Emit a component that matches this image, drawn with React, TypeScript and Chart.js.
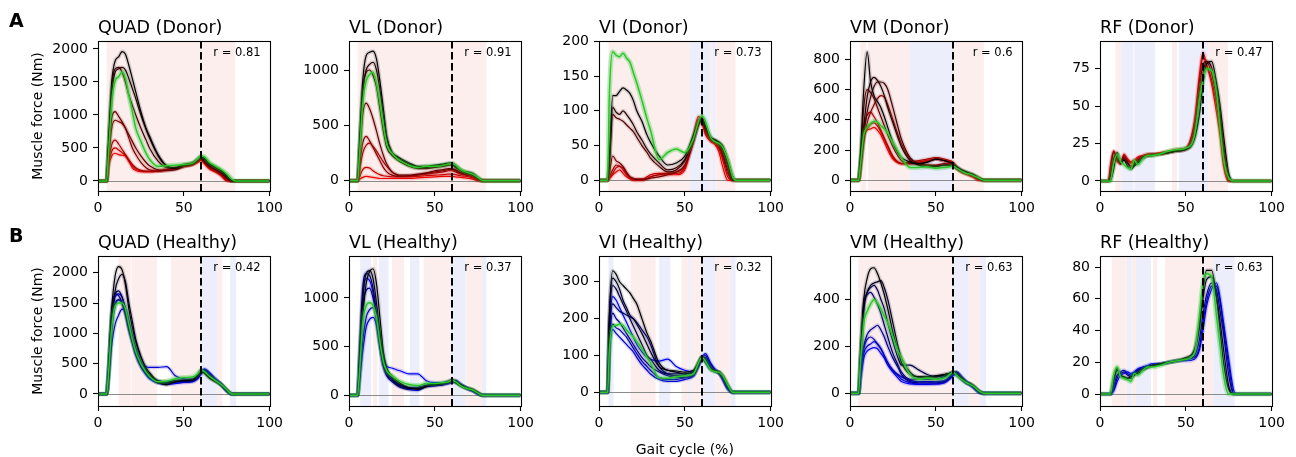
import React, { useEffect, useRef } from "react";
import { Chart, registerables } from "chart.js";

Chart.register(...registerables);

// ---------- data ----------
const GAIT = [0, 4, 5, 6, 8, 10, 12, 14, 16, 18, 20, 22, 25, 28, 30, 35, 40, 45, 50, 55, 58, 60, 62, 65, 68, 70, 72, 75, 78, 80, 100];
const X_TICKS = [0, 50, 100];

const TITLES = ["QUAD (Donor)", "VL (Donor)", "VI (Donor)", "VM (Donor)", "RF (Donor)", "QUAD (Healthy)", "VL (Healthy)", "VI (Healthy)", "VM (Healthy)", "RF (Healthy)"];
const R_VALUES = ["0.81", "0.91", "0.73", "0.6", "0.47", "0.42", "0.37", "0.32", "0.63", "0.63"];
const Y_RANGES = [[-152, 2121], [-93, 1262], [-15.4, 200.5], [-71, 921], [-6.7, 93.6], [-198, 2275], [-110, 1431], [-37, 370], [-54, 585], [-7.5, 87]];
const Y_TICKS = [
  [0, 500, 1000, 1500, 2000],
  [0, 500, 1000],
  [0, 50, 100, 150, 200],
  [0, 200, 400, 600, 800],
  [0, 25, 50, 75],
  [0, 500, 1000, 1500, 2000],
  [0, 500, 1000],
  [0, 100, 200, 300],
  [0, 200, 400],
  [0, 20, 40, 60, 80],
];

const QUAD_DONOR = [
  [0, 0, 0, 500, 1500, 1820, 1880, 1960, 1920, 1750, 1550, 1350, 1050, 800, 680, 400, 230, 200, 250, 270, 330, 370, 340, 260, 220, 190, 150, 80, 0, 0, 0],
  [0, 0, 0, 450, 1300, 1650, 1700, 1720, 1680, 1550, 1400, 1250, 1000, 780, 650, 380, 220, 190, 240, 270, 320, 360, 330, 250, 210, 180, 140, 70, 0, 0, 0],
  [0, 0, 0, 500, 1400, 1700, 1720, 1650, 1500, 1300, 1150, 1000, 800, 620, 500, 300, 200, 190, 230, 260, 310, 350, 300, 230, 190, 160, 120, 50, 0, 0, 0],
  [0, 0, 0, 400, 950, 1050, 980, 900, 800, 700, 600, 500, 380, 280, 230, 170, 160, 170, 220, 250, 300, 340, 290, 220, 180, 150, 110, 40, 0, 0, 0],
  [0, 0, 0, 300, 800, 920, 900, 870, 800, 650, 500, 400, 280, 200, 170, 150, 160, 180, 220, 250, 300, 330, 290, 210, 170, 140, 100, 30, 0, 0, 0],
  [0, 0, 0, 250, 550, 620, 560, 480, 400, 320, 250, 200, 160, 150, 150, 150, 170, 190, 230, 260, 300, 330, 280, 200, 160, 130, 90, 20, 0, 0, 0],
  [0, 0, 0, 220, 450, 500, 470, 430, 380, 300, 230, 180, 150, 140, 140, 150, 170, 190, 230, 250, 290, 320, 270, 190, 150, 120, 80, 10, 0, 0, 0],
  [0, 0, 0, 200, 380, 420, 400, 390, 380, 300, 200, 160, 140, 140, 140, 150, 170, 190, 220, 240, 280, 310, 260, 180, 140, 110, 70, 0, 0, 0, 0],
];
const QUAD_DONOR_MEAN = [0, 0, 0, 350, 1200, 1520, 1580, 1650, 1550, 1300, 1050, 800, 600, 420, 330, 220, 230, 240, 250, 270, 330, 380, 370, 280, 230, 200, 170, 110, 30, 0, 0];
const QUAD_DONOR_SPANS = [[5, 80, "r"]];

const VL_DONOR = [
  [0, 0, 0, 300, 900, 1130, 1160, 1170, 1100, 900, 650, 400, 260, 220, 200, 160, 130, 130, 140, 150, 160, 160, 140, 100, 80, 75, 65, 30, 0, 0, 0],
  [0, 0, 0, 250, 800, 1000, 1050, 1070, 1000, 820, 600, 380, 250, 210, 190, 150, 120, 120, 130, 140, 150, 150, 130, 95, 75, 70, 60, 25, 0, 0, 0],
  [0, 0, 0, 250, 800, 980, 1000, 950, 850, 650, 450, 300, 230, 190, 170, 130, 110, 110, 120, 130, 140, 140, 120, 90, 70, 65, 55, 20, 0, 0, 0],
  [0, 0, 0, 200, 600, 700, 650, 560, 450, 330, 230, 150, 80, 55, 50, 50, 60, 70, 90, 100, 110, 110, 100, 75, 60, 55, 45, 15, 0, 0, 0],
  [0, 0, 0, 120, 340, 400, 360, 300, 240, 180, 120, 80, 50, 40, 40, 45, 55, 65, 80, 90, 100, 100, 90, 70, 55, 50, 40, 10, 0, 0, 0],
  [0, 0, 0, 80, 250, 320, 340, 310, 270, 220, 170, 130, 80, 50, 40, 40, 50, 60, 70, 80, 90, 90, 80, 60, 50, 45, 35, 10, 0, 0, 0],
  [0, 0, 0, 30, 100, 120, 115, 90, 70, 55, 45, 40, 35, 35, 35, 35, 40, 45, 50, 55, 60, 60, 55, 45, 40, 35, 25, 5, 0, 0, 0],
  [0, 0, 0, 10, 30, 40, 35, 30, 25, 20, 20, 20, 20, 20, 20, 20, 25, 30, 35, 40, 40, 40, 35, 30, 25, 20, 15, 0, 0, 0, 0],
];
const VL_DONOR_MEAN = [0, 0, 0, 200, 700, 900, 960, 980, 880, 700, 500, 330, 250, 200, 180, 140, 120, 130, 130, 140, 150, 155, 140, 100, 80, 70, 60, 30, 0, 0, 0];
const VL_DONOR_SPANS = [[5, 80, "r"]];

const VI_DONOR = [
  [0, 0, 0, 30, 122, 122, 128, 133, 130, 125, 115, 100, 85, 65, 55, 35, 22, 25, 35, 65, 85, 90, 78, 62, 58, 55, 50, 30, 5, 0, 0],
  [0, 0, 0, 25, 105, 98, 95, 100, 95, 88, 80, 70, 58, 45, 38, 25, 15, 18, 30, 60, 82, 88, 76, 62, 57, 53, 45, 25, 0, 0, 0],
  [0, 0, 0, 20, 95, 90, 88, 85, 80, 75, 70, 62, 50, 40, 32, 20, 12, 15, 28, 58, 80, 86, 74, 60, 56, 52, 42, 20, 0, 0, 0],
  [0, 0, 0, 10, 35, 28, 25, 20, 12, 5, 2, 1, 1, 2, 3, 5, 8, 12, 22, 55, 80, 88, 74, 60, 55, 50, 38, 15, 0, 0, 0],
  [0, 0, 0, 5, 15, 22, 20, 18, 10, 5, 3, 2, 2, 3, 5, 8, 10, 12, 20, 55, 85, 90, 72, 58, 53, 47, 35, 10, 0, 0, 0],
  [0, 0, 0, 3, 10, 18, 20, 15, 8, 3, 0, 0, 0, 5, 8, 10, 10, 10, 18, 60, 88, 85, 68, 57, 52, 45, 30, 5, 0, 0, 0],
  [0, 0, 0, 2, 8, 12, 15, 10, 5, 2, 0, 0, 0, 2, 5, 8, 8, 8, 15, 65, 92, 82, 66, 56, 50, 40, 20, 0, 0, 0, 0],
];
const VI_DONOR_MEAN = [0, 0, 0, 120, 185, 180, 178, 183, 176, 170, 155, 140, 115, 88, 72, 30, 40, 45, 40, 60, 85, 93, 85, 62, 55, 53, 48, 30, 5, 0, 0];
const VI_DONOR_SPANS = [[5.5, 53, "r"], [53, 65, "b"], [65, 66, "r"], [66, 68, "b"], [68, 79.5, "r"]];

const VM_DONOR = [
  [0, 0, 0, 150, 600, 850, 650, 560, 520, 480, 420, 350, 250, 180, 150, 120, 110, 120, 140, 130, 120, 110, 90, 70, 55, 45, 35, 15, 0, 0, 0],
  [0, 0, 0, 100, 350, 550, 650, 680, 660, 620, 560, 480, 380, 280, 220, 130, 100, 90, 90, 100, 100, 100, 80, 65, 50, 40, 35, 15, 0, 0, 0],
  [0, 0, 0, 80, 300, 450, 550, 620, 650, 650, 640, 600, 480, 350, 270, 150, 110, 100, 95, 100, 100, 95, 80, 60, 50, 45, 35, 15, 0, 0, 0],
  [0, 0, 0, 120, 480, 600, 580, 540, 480, 420, 360, 300, 220, 160, 130, 110, 110, 120, 140, 130, 120, 110, 90, 65, 50, 40, 30, 10, 0, 0, 0],
  [0, 0, 0, 60, 250, 380, 450, 500, 540, 560, 550, 500, 400, 300, 240, 140, 110, 100, 100, 110, 110, 100, 85, 60, 45, 40, 30, 10, 0, 0, 0],
  [0, 0, 0, 100, 350, 430, 450, 420, 380, 330, 280, 230, 160, 120, 110, 120, 130, 140, 150, 140, 130, 120, 90, 60, 45, 35, 25, 5, 0, 0, 0],
  [0, 0, 0, 90, 300, 340, 370, 380, 360, 320, 270, 220, 150, 120, 110, 110, 120, 130, 140, 130, 120, 110, 80, 55, 40, 30, 20, 0, 0, 0, 0],
  [0, 0, 0, 80, 280, 330, 340, 350, 330, 300, 250, 200, 140, 115, 110, 110, 120, 130, 140, 130, 120, 110, 80, 55, 40, 30, 20, 0, 0, 0, 0],
];
const VM_DONOR_MEAN = [0, 0, 0, 90, 300, 350, 375, 390, 385, 360, 340, 310, 250, 190, 150, 85, 85, 90, 80, 85, 90, 95, 80, 60, 45, 40, 30, 15, 0, 0, 0];
const VM_DONOR_SPANS = [[6, 9.5, "r"], [10.5, 35, "r"], [35, 60, "b"], [60, 78, "r"]];

const RF_DONOR = [
  [0, 0, 0, 0, 8, 19, 12, 14, 10, 8, 10, 12, 15, 17, 17, 18, 19, 20, 21, 28, 45, 65, 78, 80, 65, 50, 30, 5, 0, 0, 0],
  [0, 0, 0, 3, 15, 18, 12, 15, 12, 9, 11, 13, 16, 17, 17, 18, 19, 20, 21, 30, 55, 72, 80, 76, 60, 45, 25, 3, 0, 0, 0],
  [0, 0, 0, 5, 19, 15, 12, 17, 13, 10, 12, 14, 16, 17, 18, 18, 19, 20, 21, 35, 62, 78, 80, 72, 55, 40, 20, 0, 0, 0, 0],
  [0, 0, 0, 8, 20, 14, 11, 16, 14, 12, 13, 15, 17, 18, 18, 18, 19, 21, 22, 38, 68, 83, 78, 68, 50, 35, 15, 0, 0, 0, 0],
  [0, 0, 0, 10, 20, 13, 12, 18, 15, 13, 14, 16, 17, 18, 18, 19, 20, 21, 22, 40, 72, 86, 78, 65, 45, 30, 10, 0, 0, 0, 0],
];
const RF_DONOR_MEAN = [0, 0, 0, 0, 12, 18, 13, 11, 9, 8, 14, 11, 15, 17, 17, 18, 20, 21, 22, 30, 55, 68, 75, 74, 58, 35, 15, 2, 0, 0, 0];
const RF_DONOR_SPANS = [[9, 12.5, "r"], [12.5, 19.5, "b"], [20, 32, "b"], [42, 45, "r"], [46, 63, "b"], [63, 74.5, "r"]];

const QUAD_HEALTHY = [
  [0, 0, 0, 300, 1400, 1950, 2100, 2050, 1800, 1400, 1100, 850, 600, 420, 350, 200, 150, 200, 220, 230, 300, 380, 340, 260, 210, 180, 140, 70, 0, 0, 0],
  [0, 0, 0, 200, 1100, 1700, 1900, 1970, 1850, 1500, 1200, 900, 620, 430, 340, 180, 180, 210, 220, 230, 300, 390, 360, 270, 220, 190, 150, 70, 0, 0, 0],
  [0, 0, 0, 300, 1300, 1650, 1700, 1600, 1400, 1150, 900, 700, 500, 380, 300, 220, 200, 220, 230, 240, 300, 360, 380, 300, 230, 190, 150, 60, 0, 0, 0],
  [0, 0, 0, 350, 1350, 1650, 1620, 1500, 1300, 1050, 850, 650, 450, 330, 270, 200, 190, 210, 220, 230, 280, 350, 390, 320, 240, 200, 150, 60, 0, 0, 0],
  [0, 0, 0, 300, 1200, 1500, 1550, 1520, 1350, 1100, 900, 700, 500, 350, 280, 200, 180, 200, 200, 210, 260, 340, 400, 330, 250, 200, 150, 50, 0, 0, 0],
  [0, 0, 0, 200, 800, 1150, 1300, 1400, 1380, 1200, 950, 750, 530, 380, 300, 210, 190, 200, 210, 220, 270, 350, 400, 330, 250, 200, 150, 50, 0, 0, 0],
  [0, 0, 0, 250, 1100, 1450, 1550, 1500, 1350, 1100, 900, 700, 500, 450, 440, 440, 450, 300, 250, 240, 290, 360, 390, 320, 240, 190, 140, 50, 0, 0, 0],
  [0, 0, 0, 350, 1300, 1600, 1650, 1600, 1400, 1100, 850, 650, 450, 320, 250, 180, 160, 170, 190, 200, 250, 330, 410, 350, 260, 210, 160, 60, 0, 0, 0],
];
const QUAD_HEALTHY_MEAN = [0, 0, 0, 280, 1100, 1450, 1500, 1500, 1400, 1150, 900, 700, 500, 360, 290, 200, 210, 250, 270, 280, 330, 390, 370, 290, 230, 190, 150, 70, 0, 0, 0];
const QUAD_HEALTHY_SPANS = [[12, 19, "r"], [19.5, 34.5, "r"], [42.5, 60, "r"], [60, 69.5, "b"], [69.5, 72.5, "r"], [77, 80.5, "b"]];

const VL_HEALTHY = [
  [0, 0, 0, 200, 800, 1150, 1270, 1300, 1150, 800, 450, 280, 200, 150, 120, 80, 60, 90, 110, 120, 140, 160, 140, 110, 80, 70, 60, 30, 0, 0, 0],
  [0, 0, 0, 300, 1000, 1250, 1280, 1200, 950, 650, 380, 250, 180, 130, 110, 70, 70, 100, 110, 120, 140, 150, 130, 100, 75, 65, 55, 25, 0, 0, 0],
  [0, 0, 0, 400, 1100, 1250, 1230, 1100, 850, 550, 320, 220, 160, 110, 90, 70, 80, 100, 110, 120, 130, 140, 150, 110, 80, 65, 50, 20, 0, 0, 0],
  [0, 0, 0, 300, 900, 1080, 1100, 1000, 800, 500, 300, 200, 140, 100, 80, 60, 80, 90, 100, 110, 130, 140, 150, 110, 80, 60, 50, 20, 0, 0, 0],
  [0, 0, 0, 150, 550, 800, 880, 900, 800, 550, 320, 220, 160, 120, 100, 80, 80, 100, 110, 120, 130, 150, 140, 100, 75, 65, 50, 20, 0, 0, 0],
  [0, 0, 0, 120, 450, 700, 780, 800, 720, 500, 320, 220, 160, 120, 100, 60, 50, 90, 100, 110, 120, 130, 140, 110, 80, 60, 45, 15, 0, 0, 0],
  [0, 0, 0, 350, 1000, 1200, 1180, 1050, 800, 550, 380, 300, 280, 260, 250, 220, 220, 150, 130, 130, 140, 150, 150, 110, 80, 60, 50, 20, 0, 0, 0],
];
const VL_HEALTHY_MEAN = [0, 0, 0, 200, 750, 920, 950, 920, 800, 550, 350, 250, 200, 160, 140, 110, 100, 120, 120, 130, 140, 155, 140, 100, 75, 65, 55, 25, 0, 0, 0];
const VL_HEALTHY_SPANS = [[6.5, 13, "b"], [14, 16.5, "r"], [17.5, 23, "b"], [25, 32, "r"], [35.5, 41, "b"], [43.5, 59.5, "r"], [59.5, 68, "b"], [68, 77.5, "r"], [77.5, 80, "b"]];

const VI_HEALTHY = [
  [0, 0, 0, 200, 330, 320, 300, 290, 280, 270, 255, 240, 200, 160, 140, 80, 60, 58, 55, 60, 80, 95, 85, 65, 58, 55, 45, 20, 0, 0, 0],
  [0, 0, 0, 200, 310, 300, 280, 250, 230, 210, 200, 185, 160, 130, 110, 70, 60, 55, 50, 55, 80, 98, 88, 65, 57, 53, 42, 15, 0, 0, 0],
  [0, 0, 0, 180, 290, 280, 260, 240, 220, 200, 180, 160, 130, 100, 90, 60, 50, 50, 50, 55, 80, 95, 90, 65, 58, 55, 45, 18, 0, 0, 0],
  [0, 0, 0, 150, 240, 230, 220, 215, 210, 205, 200, 190, 170, 150, 130, 70, 50, 45, 45, 50, 75, 92, 82, 63, 57, 52, 40, 15, 0, 0, 0],
  [0, 0, 0, 130, 215, 200, 190, 175, 160, 145, 130, 115, 95, 80, 70, 55, 45, 40, 40, 45, 70, 90, 95, 70, 58, 52, 40, 12, 0, 0, 0],
  [0, 0, 0, 120, 185, 175, 170, 160, 150, 135, 120, 105, 85, 70, 60, 40, 35, 35, 40, 45, 75, 95, 100, 75, 60, 52, 38, 10, 0, 0, 0],
  [0, 0, 0, 110, 170, 160, 150, 140, 130, 120, 110, 95, 75, 60, 50, 35, 30, 30, 35, 45, 75, 95, 105, 80, 60, 52, 35, 8, 0, 0, 0],
  [0, 0, 0, 160, 260, 250, 230, 210, 190, 170, 150, 130, 110, 95, 90, 85, 90, 70, 60, 55, 75, 95, 85, 65, 57, 53, 42, 15, 0, 0, 0],
];
const VI_HEALTHY_MEAN = [0, 0, 0, 110, 180, 182, 185, 182, 170, 160, 150, 138, 118, 95, 80, 40, 38, 42, 45, 50, 80, 95, 85, 62, 56, 54, 46, 20, 0, 0, 0];
const VI_HEALTHY_SPANS = [[5.5, 8.5, "b"], [18.5, 33, "r"], [35, 41.5, "b"], [48, 52, "r"], [52, 53.5, "b"], [53.5, 60, "r"], [60, 68, "b"], [68, 76.5, "r"], [76.5, 79.5, "b"]];

const VM_HEALTHY = [
  [0, 0, 0, 150, 400, 490, 530, 535, 510, 470, 420, 360, 260, 180, 130, 80, 70, 70, 75, 80, 85, 90, 80, 65, 45, 40, 30, 10, 0, 0, 0],
  [0, 0, 0, 120, 350, 430, 460, 470, 475, 480, 450, 400, 300, 200, 150, 90, 70, 70, 70, 80, 85, 90, 80, 60, 45, 40, 30, 10, 0, 0, 0],
  [0, 0, 0, 130, 370, 430, 450, 460, 440, 400, 360, 300, 220, 150, 120, 120, 100, 80, 70, 75, 80, 85, 80, 60, 45, 40, 30, 10, 0, 0, 0],
  [0, 0, 0, 140, 380, 420, 430, 410, 380, 340, 290, 240, 170, 120, 90, 60, 60, 60, 60, 70, 80, 90, 90, 65, 45, 38, 28, 8, 0, 0, 0],
  [0, 0, 0, 80, 200, 250, 270, 280, 290, 270, 240, 200, 150, 110, 80, 50, 45, 45, 45, 50, 65, 80, 90, 70, 48, 38, 28, 8, 0, 0, 0],
  [0, 0, 0, 70, 190, 230, 240, 230, 210, 190, 160, 130, 100, 80, 70, 55, 50, 50, 50, 55, 70, 85, 90, 70, 48, 38, 26, 6, 0, 0, 0],
  [0, 0, 0, 60, 170, 200, 210, 220, 210, 190, 160, 130, 95, 75, 60, 45, 40, 40, 40, 45, 65, 80, 85, 68, 45, 36, 25, 5, 0, 0, 0],
  [0, 0, 0, 50, 150, 180, 190, 195, 190, 170, 150, 120, 90, 65, 50, 40, 38, 38, 40, 45, 60, 75, 85, 65, 45, 35, 24, 5, 0, 0, 0],
];
const VM_HEALTHY_MEAN = [0, 0, 0, 120, 300, 350, 380, 400, 385, 360, 330, 300, 240, 180, 150, 80, 60, 65, 60, 65, 80, 90, 78, 60, 45, 38, 30, 10, 0, 0, 0];
const VM_HEALTHY_SPANS = [[4.8, 60, "r"], [60, 69.2, "b"], [69.2, 75.8, "r"], [75.8, 79.3, "b"]];

const RF_HEALTHY = [
  [0, 0, 0, 0, 10, 16, 12, 11, 10, 10, 12, 13, 15, 17, 18, 19, 20, 21, 23, 28, 45, 65, 78, 78, 60, 40, 20, 3, 0, 0, 0],
  [0, 0, 0, 0, 8, 15, 12, 10, 10, 11, 12, 14, 16, 17, 18, 19, 20, 21, 22, 27, 42, 60, 72, 74, 60, 45, 28, 5, 0, 0, 0],
  [0, 0, 0, 0, 5, 12, 13, 14, 12, 11, 13, 15, 16, 17, 18, 19, 20, 21, 22, 24, 35, 50, 62, 70, 65, 52, 38, 12, 0, 0, 0],
  [0, 0, 0, 0, 3, 10, 14, 15, 13, 12, 14, 15, 17, 18, 18, 19, 20, 21, 22, 23, 30, 45, 58, 68, 68, 58, 42, 18, 0, 0, 0],
  [0, 0, 0, 0, 2, 8, 12, 13, 14, 13, 14, 16, 17, 18, 19, 19, 20, 21, 21, 22, 28, 40, 55, 66, 70, 60, 45, 22, 2, 0, 0],
];
const RF_HEALTHY_MEAN = [0, 0, 0, 0, 12, 17, 11, 10, 9, 8, 13, 12, 15, 17, 17, 18, 20, 21, 22, 26, 50, 70, 76, 74, 48, 30, 12, 0, 0, 0, 0];
const RF_HEALTHY_SPANS = [[6.8, 15.5, "r"], [15.5, 18.4, "b"], [18.4, 21, "r"], [21, 29.7, "b"], [31, 33.3, "r"], [37.8, 60, "r"], [60, 66, "r"], [66, 78.5, "b"]];

const Y_LABEL = "Muscle force (Nm)";
const X_LABEL = "Gait cycle (%)";

// ---------- layout / style ----------
const FONT = "'DejaVu Sans', 'Liberation Sans', sans-serif";
const COL_LEFT = [98, 349, 599, 850, 1100];
const ROW_TOP = [41, 256];
const PLOT_W = 173;
const PLOT_H = 150;
const PAD_L = 75;
const PAD_T = 30;
const PAD_R = 16;
const PAD_B = 55;
const PINK = "rgb(253,238,238)";
const BLUE = "rgb(236,238,252)";
const GREEN = "rgb(40,200,40)";
const GREEN_BAND = "rgba(40,200,40,0.3)";

type Span = (number | string)[];
type PanelDef = {
  idx: number;
  lines: number[][];
  mean: number[];
  spans: Span[];
  donor: boolean;
};

const PANELS: PanelDef[] = [
  { idx: 0, lines: QUAD_DONOR, mean: QUAD_DONOR_MEAN, spans: QUAD_DONOR_SPANS, donor: true },
  { idx: 1, lines: VL_DONOR, mean: VL_DONOR_MEAN, spans: VL_DONOR_SPANS, donor: true },
  { idx: 2, lines: VI_DONOR, mean: VI_DONOR_MEAN, spans: VI_DONOR_SPANS, donor: true },
  { idx: 3, lines: VM_DONOR, mean: VM_DONOR_MEAN, spans: VM_DONOR_SPANS, donor: true },
  { idx: 4, lines: RF_DONOR, mean: RF_DONOR_MEAN, spans: RF_DONOR_SPANS, donor: true },
  { idx: 5, lines: QUAD_HEALTHY, mean: QUAD_HEALTHY_MEAN, spans: QUAD_HEALTHY_SPANS, donor: false },
  { idx: 6, lines: VL_HEALTHY, mean: VL_HEALTHY_MEAN, spans: VL_HEALTHY_SPANS, donor: false },
  { idx: 7, lines: VI_HEALTHY, mean: VI_HEALTHY_MEAN, spans: VI_HEALTHY_SPANS, donor: false },
  { idx: 8, lines: VM_HEALTHY, mean: VM_HEALTHY_MEAN, spans: VM_HEALTHY_SPANS, donor: false },
  { idx: 9, lines: RF_HEALTHY, mean: RF_HEALTHY_MEAN, spans: RF_HEALTHY_SPANS, donor: false },
];

function PanelChart({ p }: { p: PanelDef }) {
  const ref = useRef<HTMLCanvasElement>(null);
  const row = Math.floor(p.idx / 5);
  const col = p.idx % 5;
  const cw = PAD_L + PLOT_W + PAD_R;
  const ch = PAD_T + PLOT_H + PAD_B;
  const left = COL_LEFT[col] - PAD_L;
  const top = ROW_TOP[row] - PAD_T;

  useEffect(() => {
    const canvas = ref.current;
    if (!canvas) return;
    const pts = (arr: number[]) => GAIT.map((x, i) => ({ x, y: arr[i] ?? 0 }));
    const n = p.lines.length;
    const datasets: any[] = [
      { data: pts(p.mean), borderColor: GREEN, borderWidth: 1.5, order: 0 },
      { data: pts(p.mean), borderColor: GREEN_BAND, borderWidth: 5, order: 1 },
    ];
    p.lines.forEach((arr, i) => {
      const t = n > 1 ? i / (n - 1) : 0;
      const c = Math.round((p.donor ? 235 : 250) * t);
      const rgb = p.donor ? `${c},0,0` : `0,0,${c}`;
      datasets.push({ data: pts(arr), borderColor: `rgb(${rgb})`, borderWidth: 1.2, order: 2 });
      datasets.push({ data: pts(arr), borderColor: `rgba(${rgb},0.16)`, borderWidth: 4, order: 3 });
    });

    const spans = p.spans;
    const rText = "r = " + R_VALUES[p.idx];
    const decor = {
      id: "decor",
      beforeDatasetsDraw(chart: any) {
        const { ctx, chartArea: a, scales } = chart;
        const xs = scales.x;
        const ys = scales.y;
        ctx.save();
        for (const s of spans) {
          const x0 = xs.getPixelForValue(s[0] as number);
          const x1 = xs.getPixelForValue(s[1] as number);
          ctx.fillStyle = s[2] === "r" ? PINK : BLUE;
          ctx.fillRect(x0, a.top, x1 - x0, a.bottom - a.top);
        }
        const y0 = Math.round(ys.getPixelForValue(0)) + 0.5;
        ctx.strokeStyle = "#8c8c8c";
        ctx.lineWidth = 1;
        ctx.beginPath();
        ctx.moveTo(a.left, y0);
        ctx.lineTo(a.right, y0);
        ctx.stroke();
        ctx.restore();
      },
      afterDatasetsDraw(chart: any) {
        const { ctx, chartArea: a, scales } = chart;
        const xs = scales.x;
        ctx.save();
        const xd = Math.round(xs.getPixelForValue(60));
        ctx.strokeStyle = "#000";
        ctx.lineWidth = 2;
        ctx.setLineDash([7.5, 3.5]);
        ctx.beginPath();
        ctx.moveTo(xd, a.top);
        ctx.lineTo(xd, a.bottom);
        ctx.stroke();
        ctx.setLineDash([]);
        ctx.lineWidth = 1.1;
        ctx.strokeRect(Math.round(a.left) + 0.5, Math.round(a.top) + 0.5, Math.round(a.right - a.left), Math.round(a.bottom - a.top));
        ctx.fillStyle = "#000";
        ctx.font = `11.5px ${FONT}`;
        ctx.textAlign = "right";
        ctx.textBaseline = "middle";
        ctx.fillText(rText, a.right - 9, a.top + 12);
        ctx.restore();
      },
    };

    const tickFont = { family: FONT, size: 14 };
    const chart = new Chart(canvas, {
      type: "line",
      data: { datasets },
      plugins: [decor],
      options: {
        animation: false,
        responsive: false,
        devicePixelRatio: 1,
        events: [],
        layout: { padding: { left: 0, top: 0, right: PAD_R, bottom: 0 } },
        elements: {
          point: { radius: 0 },
          line: { cubicInterpolationMode: "monotone", fill: false },
        },
        plugins: {
          legend: { display: false },
          tooltip: { enabled: false },
          title: {
            display: true,
            text: TITLES[p.idx],
            align: "start",
            fullSize: false,
            color: "#000",
            font: { family: FONT, size: 17.5, weight: "normal", lineHeight: 1.2 },
            padding: { top: 6.5, bottom: 2.5 },
          },
        },
        scales: {
          x: {
            type: "linear",
            min: 0,
            max: 100,
            afterBuildTicks: (s: any) => {
              s.ticks = X_TICKS.map((v) => ({ value: v }));
            },
            afterFit: (s: any) => {
              s.height = PAD_B;
            },
            grid: { display: true, drawOnChartArea: false, drawTicks: true, tickLength: 5, tickColor: "#000", tickWidth: 1.1 },
            border: { display: false },
            ticks: { color: "#000", font: tickFont, padding: 4, maxRotation: 0, autoSkip: false, callback: (v: any) => String(v) },
            title: {
              display: p.idx === 7,
              text: X_LABEL,
              color: "#000",
              font: { family: FONT, size: 14, lineHeight: 1.2 },
              padding: { top: 0, bottom: 2.6 },
            },
          },
          y: {
            type: "linear",
            min: Y_RANGES[p.idx][0],
            max: Y_RANGES[p.idx][1],
            afterBuildTicks: (s: any) => {
              s.ticks = Y_TICKS[p.idx].map((v) => ({ value: v }));
            },
            afterFit: (s: any) => {
              s.width = PAD_L;
            },
            grid: { display: true, drawOnChartArea: false, drawTicks: true, tickLength: 5, tickColor: "#000", tickWidth: 1.1 },
            border: { display: false },
            ticks: { color: "#000", font: tickFont, padding: 5, autoSkip: false, callback: (v: any) => String(v) },
            title: {
              display: col === 0,
              text: Y_LABEL,
              color: "#000",
              font: { family: FONT, size: 14, lineHeight: 1.2 },
              padding: { top: 6.6, bottom: 0 },
            },
          },
        },
      } as any,
    });
    return () => chart.destroy();
  }, [p]);

  return (
    <canvas
      ref={ref}
      width={cw}
      height={ch}
      style={{ position: "absolute", left, top, width: cw, height: ch }}
    />
  );
}

export default function App() {
  const letterStyle: React.CSSProperties = {
    position: "absolute",
    left: 9,
    fontFamily: FONT,
    fontWeight: "bold",
    fontSize: 19,
    lineHeight: "19px",
    color: "#000",
  };
  return (
    <div style={{ position: "absolute", left: 0, top: 0, width: 1296, height: 457, background: "#fff", overflow: "hidden" }}>
      {PANELS.map((p) => (
        <PanelChart key={p.idx} p={p} />
      ))}
      <div style={{ ...letterStyle, top: 11 }}>A</div>
      <div style={{ ...letterStyle, top: 226 }}>B</div>
    </div>
  );
}
